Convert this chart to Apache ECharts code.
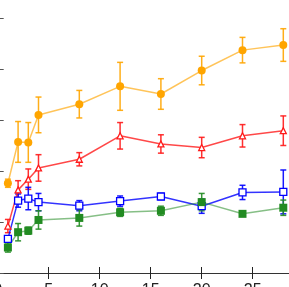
<!DOCTYPE html>
<html>
<head>
<meta charset="utf-8">
<script src="https://cdn.jsdelivr.net/npm/echarts@6/dist/echarts.min.js"></script>
<style>html,body{margin:0;padding:0;background:#fff;}#c{width:289px;height:287px;}</style>
</head>
<body>
<div id="c"></div>
<script>
var xValues = [1, 2, 3, 4, 8, 12, 16, 20, 24, 28];
var xTicks = [0, 5, 10, 15, 20, 25, 30];

var orangeY   = [1.76, 2.57, 2.56, 3.10, 3.31, 3.66, 3.51, 3.97, 4.37, 4.47];
var orangeErr = [0.08, 0.40, 0.39, 0.35, 0.27, 0.47, 0.30, 0.28, 0.25, 0.32];

var redY   = [0.92, 1.63, 1.84, 2.06, 2.23, 2.69, 2.53, 2.46, 2.69, 2.79];
var redErr = [0.13, 0.18, 0.20, 0.26, 0.13, 0.26, 0.18, 0.20, 0.22, 0.29];

var blueY   = [0.67, 1.42, 1.46, 1.39, 1.32, 1.41, 1.50, 1.31, 1.58, 1.59];
var blueErr = [0.04, 0.13, 0.22, 0.17, 0.10, 0.10, 0.06, 0.14, 0.14, 0.43];

var greenY   = [0.50, 0.80, 0.83, 1.04, 1.08, 1.19, 1.22, 1.39, 1.16, 1.28];
var greenErr = [0.09, 0.17, 0.07, 0.18, 0.16, 0.08, 0.09, 0.17, 0.04, 0.15];

function pts(ys) { return xValues.map(function (x, i) { return [x, ys[i]]; }); }
function errs(ys, es) { return xValues.map(function (x, i) { return [x, ys[i] - es[i], ys[i] + es[i]]; }); }

function errorSeries(ys, es, color) {
  return {
    type: 'custom',
    data: errs(ys, es),
    z: 2,
    renderItem: function (params, api) {
      var x = api.value(0);
      var lo = api.coord([x, api.value(1)]);
      var hi = api.coord([x, api.value(2)]);
      var w = 3;
      var st = { stroke: color, lineWidth: 1.5, opacity: 0.9 };
      return {
        type: 'group',
        children: [
          { type: 'line', shape: { x1: lo[0], y1: lo[1], x2: hi[0], y2: hi[1] }, style: st },
          { type: 'line', shape: { x1: lo[0] - w, y1: lo[1], x2: lo[0] + w, y2: lo[1] }, style: st },
          { type: 'line', shape: { x1: hi[0] - w, y1: hi[1], x2: hi[0] + w, y2: hi[1] }, style: st }
        ]
      };
    }
  };
}

function lineSeries(ys, color, symbol, filled, size, lineOpacity) {
  return {
    type: 'line',
    data: pts(ys),
    z: 3,
    symbol: symbol,
    symbolSize: size,
    showAllSymbol: true,
    lineStyle: { color: color, width: 1.5, opacity: lineOpacity },
    itemStyle: filled ? { color: color, borderWidth: 0 } : { color: '#fff', borderColor: color, borderWidth: 1.3 },
    emphasis: { disabled: true },
    animation: false
  };
}

var chart = echarts.init(document.getElementById('c'), null, { renderer: 'canvas' });
var axisLineStyle = { color: '#333', width: 1 };
chart.setOption({
  animation: false,
  backgroundColor: '#fff',
  grid: { left: -2.3, right: -14.7, top: 18, bottom: 14, outerBoundsMode: 'none', containLabel: false },
  xAxis: [{
    type: 'value', min: 0, max: 30, interval: 5, position: 'bottom',
    axisLine: { show: true, lineStyle: axisLineStyle },
    axisTick: { show: true, inside: true, length: 6, lineStyle: { color: '#222' } },
    axisLabel: { show: true, margin: 10, fontSize: 16, color: '#222', fontFamily: 'Liberation Sans',
      formatter: function (v) { return xTicks.indexOf(v) >= 0 ? String(v) : ''; } },
    splitLine: { show: false }
  }, {
    type: 'value', min: 0, max: 30, interval: 5, position: 'top',
    axisLine: { show: true, lineStyle: axisLineStyle },
    axisTick: { show: true, inside: true, length: 6, lineStyle: { color: '#222' } },
    axisLabel: { show: false }, splitLine: { show: false }
  }],
  yAxis: [{
    type: 'value', min: 0, max: 5, interval: 1, position: 'left',
    axisLine: { show: true, lineStyle: axisLineStyle },
    axisTick: { show: true, inside: true, length: 6, lineStyle: { color: '#555' } },
    axisLabel: { show: false }, splitLine: { show: false }
  }, {
    type: 'value', min: 0, max: 5, interval: 1, position: 'right',
    axisLine: { show: true, lineStyle: axisLineStyle },
    axisTick: { show: true, inside: true, length: 6 },
    axisLabel: { show: false }, splitLine: { show: false }
  }],
  series: [
    errorSeries(orangeY, orangeErr, '#FFA500'),
    lineSeries(orangeY, '#FFA500', 'circle', true, 8, 0.65),
    errorSeries(redY, redErr, '#FF1A1A'),
    lineSeries(redY, '#FF1A1A', 'triangle', false, 6, 0.8),
    errorSeries(blueY, blueErr, '#0000FF'),
    lineSeries(blueY, '#0000FF', 'rect', false, 7, 0.8),
    errorSeries(greenY, greenErr, '#228B22'),
    lineSeries(greenY, '#228B22', 'rect', true, 8, 0.55)
  ]
});
</script>
</body>
</html>
